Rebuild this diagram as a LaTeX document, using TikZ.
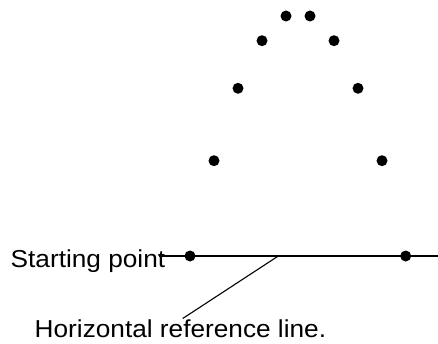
\documentclass[tikz,border=0pt]{standalone}
\usepackage{fontspec}
\setmainfont[FakeStretch=1.07]{Liberation Sans}
\begin{document}
\begin{tikzpicture}[x=1pt,y=1pt,
  pt/.style={circle,fill=black,inner sep=0pt,minimum size=11pt},
  lbl/.style={inner sep=0pt,anchor=base west,font=\fontsize{24.5}{28}\selectfont},
  ln/.style={line width=1.1pt}]
\useasboundingbox (0,0) rectangle (438,343);
% trajectory points
\node[pt] (p1) at (190,87) {};
\node[pt] (p2) at (214,182.3) {};
\node[pt] (p3) at (238,254.7) {};
\node[pt] (p4) at (262,302.3) {};
\node[pt] (p5) at (286,327) {};
\node[pt] (p6) at (310,327) {};
\node[pt] (p7) at (334,302.3) {};
\node[pt] (p8) at (358,254.7) {};
\node[pt] (p9) at (382,182.3) {};
\node[pt] (p10) at (405.7,87) {};
% labels
\node[lbl] (start) at (10.5,75.7) {Starting point};
\node[lbl] (ref) at (34.5,5.5) {Horizontal reference line.};
% reference line and leader
\coordinate (lineL) at (159,87);
\coordinate (lineR) at (438,87);
\coordinate (lead) at (278.3,87);
\coordinate (leadEnd) at (182.7,24.5);
\draw[ln] (lineL) -- (lineR);
\draw[ln] (lead) -- (leadEnd);
\end{tikzpicture}
\end{document}
